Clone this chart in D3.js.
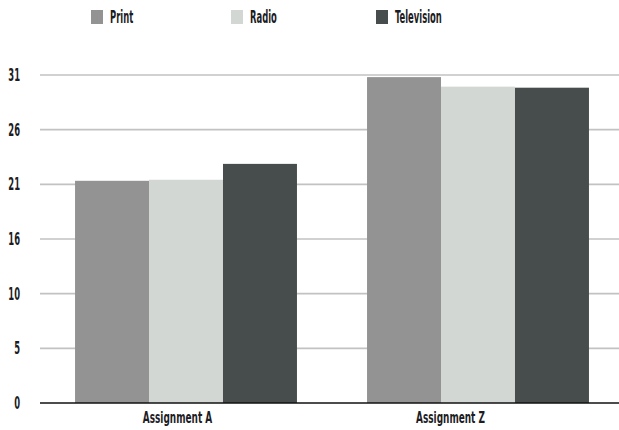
<!DOCTYPE html>
<html><head><meta charset="utf-8">
<script src="https://cdn.jsdelivr.net/npm/d3@7"></script>
<style>
html,body{margin:0;padding:0;background:#fff;}
text{font-family:"DejaVu Sans Condensed","Liberation Sans Narrow",sans-serif;font-weight:bold;fill:#1c1c24;}
</style></head>
<body><svg id="c" width="619" height="430"></svg>
<script>
const categories = ["Assignment A", "Assignment Z"];
const seriesNames = ["Print", "Radio", "Television"];
const print = [21.0, 30.8];
const radio = [21.1, 29.9];
const television = [22.6, 29.8];
const yMax = 31;
const tickValues = [0, 31/6, 31*2/6, 31*3/6, 31*4/6, 31*5/6, 31];
const tickLabels = ["0", "5", "10", "16", "21", "26", "31"];
const colors = ["#939393", "#d2d7d3", "#474d4c"];

const seriesData = [print, radio, television];
const svg = d3.select("#c");

const y = d3.scaleLinear().domain([0, yMax]).range([403, 75]);
const x0 = d3.scaleBand().domain(categories).range([40, 624]).paddingInner(0.24).paddingOuter(0.12);
const x1 = d3.scaleBand().domain(seriesNames).range([0, x0.bandwidth()]);
const xl = d3.scaleBand().domain(categories).range([41, 587]);

svg.append("g").selectAll("line").data(tickValues.slice(1)).join("line")
  .attr("x1", 40).attr("x2", 619)
  .attr("y1", d => y(d)).attr("y2", d => y(d))
  .attr("stroke", "#c2c2c2").attr("stroke-width", 1.6);

const g = svg.append("g");
categories.forEach((c, ci) => {
  seriesNames.forEach((s, si) => {
    g.append("rect")
      .attr("x", x0(c) + x1(s))
      .attr("width", x1.bandwidth())
      .attr("y", y(seriesData[si][ci]))
      .attr("height", y(0) - y(seriesData[si][ci]))
      .attr("fill", colors[si]);
  });
});

svg.append("line").attr("x1", 40).attr("x2", 619).attr("y1", y(0)).attr("y2", y(0))
  .attr("stroke", "#111").attr("stroke-width", 1.6);

function squeeze(sel, k) {
  sel.each(function(){ const w = this.getComputedTextLength(); d3.select(this).attr("textLength", w*k).attr("lengthAdjust","spacingAndGlyphs"); });
}

const yl = svg.append("g").selectAll("text").data(tickValues).join("text")
  .attr("x", 20).attr("y", d => y(d)).attr("dy", "0.36em")
  .attr("text-anchor", "end").attr("font-size", 17)
  .text((d, i) => tickLabels[i]);
squeeze(yl, 0.55);

const xt = svg.append("g").selectAll("text").data(categories).join("text")
  .attr("x", d => xl(d) + xl.bandwidth()/2).attr("y", 417).attr("dy", "0.36em")
  .attr("text-anchor", "middle").attr("font-size", 16)
  .text(d => d);
squeeze(xt, 0.62);

const legX = [91, 231, 376];
const leg = svg.append("g");
seriesNames.forEach((s, i) => {
  leg.append("rect").attr("x", legX[i]).attr("y", 10).attr("width", 12).attr("height", 14).attr("fill", colors[i]);
  const t = leg.append("text").attr("x", legX[i] + 19).attr("y", 17).attr("dy", "0.36em").attr("font-size", 17).text(s);
  squeeze(t, 0.55);
});
</script></body></html>
